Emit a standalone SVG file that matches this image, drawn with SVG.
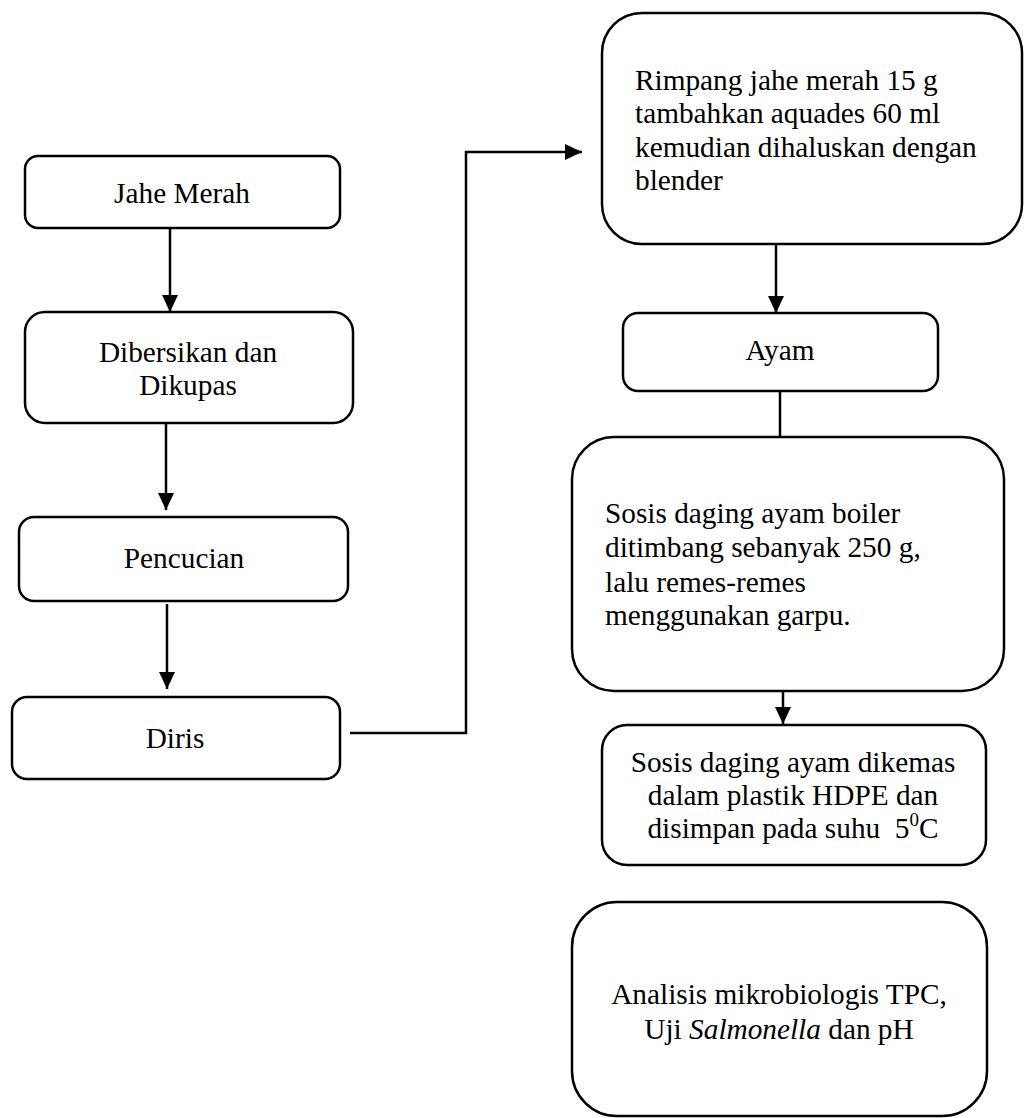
<svg xmlns="http://www.w3.org/2000/svg" width="1024" height="1118" viewBox="0 0 1024 1118">
<style>
.box{fill:#fff;stroke:#000;stroke-width:2.5}
.t{font-family:"Liberation Serif","Times New Roman",serif;font-size:29.3px;fill:#000}
.c{text-anchor:middle}
.ln{fill:none;stroke:#000;stroke-width:2.5}
</style>
<defs>
<marker id="ah" viewBox="0 0 17 16" refX="17" refY="8" markerWidth="17" markerHeight="16" markerUnits="userSpaceOnUse" orient="auto">
<path d="M0,0 L17,8 L0,16 Z" fill="#000"/>
</marker>
</defs>
<rect width="1024" height="1118" fill="#fff"/>
<g id="connectors">
<line class="ln" x1="170" y1="228" x2="170" y2="312" marker-end="url(#ah)"/>
<line class="ln" x1="166" y1="423" x2="166" y2="510" marker-end="url(#ah)"/>
<line class="ln" x1="167" y1="604" x2="167" y2="689" marker-end="url(#ah)"/>
<polyline class="ln" points="350,733 466,733 466,152 582,152" marker-end="url(#ah)"/>
<line class="ln" x1="776" y1="244" x2="776" y2="313" marker-end="url(#ah)"/>
<line class="ln" x1="780" y1="382" x2="780" y2="437"/>
<line class="ln" x1="783" y1="663" x2="783" y2="724" marker-end="url(#ah)"/>
</g>
<g id="jahe-merah">
<rect class="box" x="25" y="156" width="315" height="72" rx="13"/>
<text class="t c" x="182" y="203">Jahe Merah</text>
</g>
<g id="dibersikan">
<rect class="box" x="25" y="312" width="328" height="111" rx="20"/>
<text class="t c" x="188" y="362">Dibersikan dan</text>
<text class="t c" x="188" y="395">Dikupas</text>
</g>
<g id="pencucian">
<rect class="box" x="19" y="517" width="329" height="84" rx="15"/>
<text class="t c" x="184" y="568">Pencucian</text>
</g>
<g id="diris">
<rect class="box" x="12" y="697" width="328" height="82" rx="15"/>
<text class="t c" x="175" y="748">Diris</text>
</g>
<g id="rimpang">
<rect class="box" x="602" y="13" width="420" height="231" rx="40"/>
<text class="t" x="635" y="90">Rimpang jahe merah 15 g</text>
<text class="t" x="635" y="123">tambahkan aquades 60 ml</text>
<text class="t" x="635" y="157">kemudian dihaluskan dengan</text>
<text class="t" x="635" y="190">blender</text>
</g>
<g id="ayam">
<rect class="box" x="623" y="313" width="315" height="78" rx="15"/>
<text class="t c" x="780" y="360">Ayam</text>
</g>
<g id="sosis-timbang">
<rect class="box" x="572" y="437" width="432" height="254" rx="42"/>
<text class="t" x="605" y="523">Sosis daging ayam boiler</text>
<text class="t" x="605" y="557">ditimbang sebanyak 250 g,</text>
<text class="t" x="605" y="592">lalu remes-remes</text>
<text class="t" x="605" y="625">menggunakan garpu.</text>
</g>
<g id="sosis-kemas">
<rect class="box" x="602" y="725" width="384" height="140" rx="25"/>
<text class="t c" x="793" y="772">Sosis daging ayam dikemas</text>
<text class="t c" x="793" y="805">dalam plastik HDPE dan</text>
<text class="t c" x="793" y="838" xml:space="preserve">disimpan pada suhu  5<tspan font-size="19" dy="-12">0</tspan><tspan dy="12">C</tspan></text>
</g>
<g id="analisis">
<rect class="box" x="572" y="902" width="415" height="214" rx="45"/>
<text class="t c" x="779" y="1004">Analisis mikrobiologis TPC,</text>
<text class="t c" x="779" y="1039">Uji <tspan font-style="italic">Salmonella</tspan> dan pH</text>
</g>
</svg>
